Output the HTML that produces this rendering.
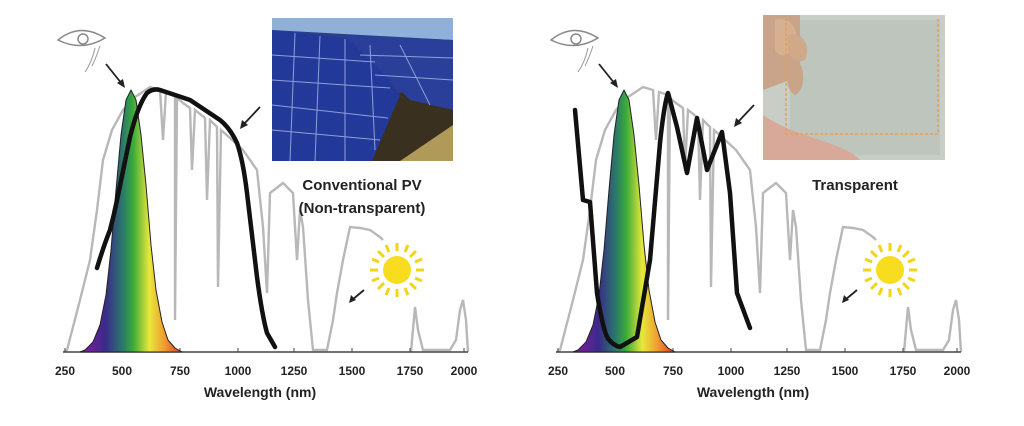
<!DOCTYPE html>
<html><head><style>
body{margin:0;background:#fff;width:1024px;height:421px;overflow:hidden}
text{font-family:"Liberation Sans",Arial,sans-serif;font-weight:bold;fill:#222}
</style></head><body>
<svg width="1024" height="421" viewBox="0 0 1024 421" xmlns="http://www.w3.org/2000/svg">
<defs>
<linearGradient id="rb" x1="0" x2="1" y1="0" y2="0">
<stop offset="0" stop-color="#8a1aa0"/><stop offset="0.25" stop-color="#3a2a8a"/>
<stop offset="0.42" stop-color="#2a7a6a"/><stop offset="0.52" stop-color="#3aaa3a"/>
<stop offset="0.68" stop-color="#e8e83a"/><stop offset="0.82" stop-color="#f0a030"/>
<stop offset="1" stop-color="#e03a2a"/></linearGradient>
<g id="gray">
<path fill="none" stroke="#b8b8b8" stroke-width="2.4" d="M64,352 L67,350 L80,300 L90,260 L97,210 L103,160 L112,130 L123,110 L135,97 L150,87 L160,90 L163,140 L166,92 L175,95 L175,320 L177,98 L183,103 L190,108 L192,170 L195,110 L205,118 L207,200 L210,120 L217,127 L218,287 L221,130 L230,138 L243,150 L250,160 L257,170 L263,227 L267,293 L270,193 L283,183 L293,193 L297,260 L300,210 L303,227 L308,300 L313,350 L327,350 L333,320 L337,293 L343,260 L350,227 L360,228 L370,230 L380,237 L383,240 M411,352 L415,307 L418,330 L423,350 L450,350 L456,340 L460,310 L463,300 L466,320 L468,352"/>
<line x1="63" y1="352" x2="468" y2="352" stroke="#444" stroke-width="1.5"/>
<g stroke="#444" stroke-width="1">
<line x1="65" y1="348" x2="65" y2="352"/><line x1="122" y1="348" x2="122" y2="352"/><line x1="180" y1="348" x2="180" y2="352"/><line x1="238" y1="348" x2="238" y2="352"/><line x1="294" y1="348" x2="294" y2="352"/><line x1="352" y1="348" x2="352" y2="352"/><line x1="410" y1="348" x2="410" y2="352"/><line x1="464" y1="348" x2="464" y2="352"/></g>
<g font-size="12" text-anchor="middle">
<text x="65" y="375">250</text><text x="122" y="375">500</text><text x="180" y="375">750</text><text x="238" y="375">1000</text><text x="294" y="375">1250</text><text x="352" y="375">1500</text><text x="410" y="375">1750</text><text x="464" y="375">2000</text></g>
<text x="260" y="397" font-size="14" text-anchor="middle">Wavelength (nm)</text>
<g stroke="#f2d51a" stroke-width="3">
<circle cx="397" cy="270" r="14" fill="#f7dc20" stroke="none"/>
<line x1="397" y1="243" x2="397" y2="251"/><line x1="397" y1="289" x2="397" y2="297"/><line x1="370" y1="270" x2="378" y2="270"/><line x1="416" y1="270" x2="424" y2="270"/>
<line x1="378" y1="251" x2="384" y2="257"/><line x1="410" y1="283" x2="416" y2="289"/><line x1="416" y1="251" x2="410" y2="257"/><line x1="384" y1="283" x2="378" y2="289"/>
<line x1="386" y1="245" x2="389" y2="252"/><line x1="408" y1="245" x2="405" y2="252"/><line x1="372" y1="259" x2="379" y2="262"/><line x1="422" y1="259" x2="415" y2="262"/>
<line x1="372" y1="281" x2="379" y2="278"/><line x1="422" y1="281" x2="415" y2="278"/><line x1="386" y1="295" x2="389" y2="288"/><line x1="408" y1="295" x2="405" y2="288"/></g>
<line x1="364" y1="290" x2="352" y2="300" stroke="#222" stroke-width="1.8"/><path d="M349,303 L351,295 L356,300Z" fill="#222"/>
<path d="M58,40 Q80,22 105,38 Q82,52 58,40Z" fill="none" stroke="#888" stroke-width="1.5"/>
<circle cx="83" cy="39" r="5" fill="none" stroke="#888" stroke-width="1.5"/>
<path d="M95,48 Q92,62 85,72 M100,46 Q96,58 92,66" fill="none" stroke="#999" stroke-width="1"/>
<line x1="106" y1="64" x2="122" y2="84" stroke="#222" stroke-width="1.8"/><path d="M125,88 L117,83 L123,79Z" fill="#222"/>
<path d="M80,352 L85,350 L93,342 L100,325 L106,295 L111,250 L116,190 L121,135 L126,100 L131,90 L136,100 L141,135 L146,185 L151,245 L156,290 L162,322 L168,340 L175,348 L182,352Z" fill="url(#rb)" stroke="#222" stroke-width="1" stroke-linejoin="round"/>
</g>
</defs>

<use href="#gray"/>
<use href="#gray" x="493"/>

<path d="M97,268 Q104,245 110,230 Q114,215 117,200 L130,137 Q138,105 147,93 Q153,88 160,90 L190,100 L220,120 Q230,128 237,143 Q243,160 247,193 L257,277 Q262,315 267,333 L275,347" fill="none" stroke="#111" stroke-width="4.5" stroke-linejoin="round" stroke-linecap="round"/>
<line x1="260" y1="107" x2="244" y2="124" stroke="#222" stroke-width="1.8"/><path d="M240,129 L242,120 L248,125Z" fill="#222"/>

<g>
<rect x="272" y="18" width="181" height="143" fill="#2b3f8a"/>
<path d="M272,18 L453,18 L453,40 L272,30Z" fill="#8fb0d8"/>
<path d="M395,95 L453,70 L453,161 L372,161Z" fill="#3a3020"/>
<path d="M400,161 L453,125 L453,161Z" fill="#b09a5a"/>
<path d="M272,30 L360,40 L400,95 L372,161 L272,161Z" fill="#23399a"/>
<path d="M345,35 L453,40 L453,110 L410,100Z" fill="#2a3f9a"/>
<g stroke="#a8b8e8" stroke-width="1" opacity="0.8">
<line x1="272" y1="55" x2="375" y2="62"/><line x1="272" y1="80" x2="390" y2="88"/><line x1="272" y1="105" x2="388" y2="118"/><line x1="272" y1="130" x2="380" y2="140"/>
<line x1="295" y1="33" x2="290" y2="161"/><line x1="320" y1="36" x2="315" y2="161"/><line x1="345" y1="39" x2="345" y2="161"/><line x1="370" y1="45" x2="375" y2="150"/>
<line x1="360" y1="55" x2="453" y2="58"/><line x1="375" y1="75" x2="453" y2="80"/><line x1="400" y1="45" x2="430" y2="105"/></g>
</g>
<text x="362" y="190" font-size="15" text-anchor="middle">Conventional PV</text>
<text x="362" y="213" font-size="15" text-anchor="middle">(Non-transparent)</text>

<path d="M575,110 L583,200 L590,202 L597,293 Q602,325 607,337 Q612,345 620,347 L637,337 L650,260 L660,143 Q664,105 668,93 L677,127 L687,173 L697,118 L707,170 L722,132 L730,193 L737,293 L750,328" fill="none" stroke="#111" stroke-width="4.5" stroke-linejoin="round" stroke-linecap="round"/>
<line x1="754" y1="105" x2="738" y2="122" stroke="#222" stroke-width="1.8"/><path d="M734,127 L736,118 L742,123Z" fill="#222"/>
<g>
<rect x="763" y="15" width="182" height="145" fill="#c8cdc6"/>
<rect x="790" y="20" width="150" height="135" fill="#b8c0b8" opacity="0.6"/>
<path d="M763,15 L800,15 L800,70 L790,80 L763,90Z" fill="#c9a48a"/>
<path d="M775,20 C790,15 800,30 795,45 C790,55 780,60 775,50Z" fill="#d6b090"/>
<path d="M788,35 C800,30 812,45 805,60 C795,65 785,55 788,35Z" fill="#cfa988"/>
<path d="M790,60 C805,55 808,90 795,95 C785,90 785,70 790,60Z" fill="#caa486"/>
<path d="M763,115 C800,140 840,140 860,160 L763,160Z" fill="#d8a898"/>
<path d="M786,18 L786,134 L938,134 L938,18" fill="none" stroke="#e8a050" stroke-width="1.5" stroke-dasharray="3,2"/>
</g>
<text x="855" y="190" font-size="15" text-anchor="middle">Transparent</text>
</svg>
</body></html>
